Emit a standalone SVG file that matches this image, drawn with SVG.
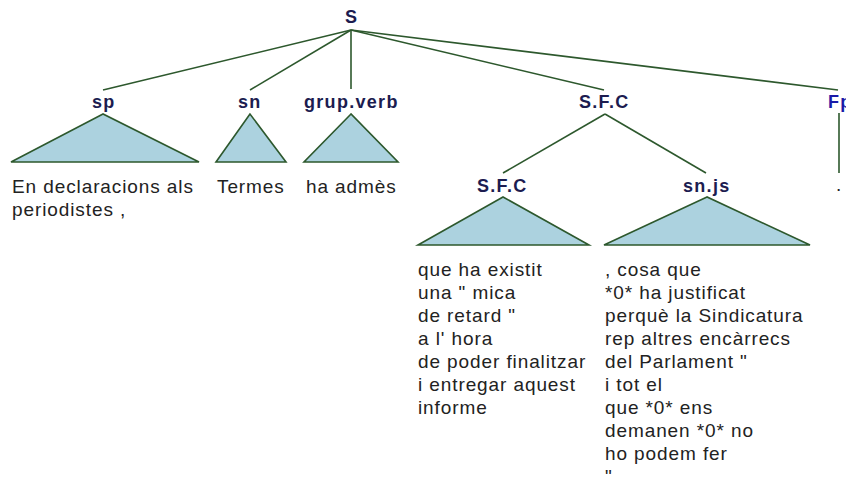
<svg xmlns="http://www.w3.org/2000/svg" width="846" height="477" viewBox="0 0 846 477">
<style>
.lbl{font-family:"Liberation Sans",Arial,sans-serif;font-weight:bold;font-size:18px;letter-spacing:1.3px;fill:#1c1c50}
.fp{fill:#1a1aa8}
.w{font-family:"Liberation Sans",Arial,sans-serif;font-size:19px;letter-spacing:0.9px;fill:#222}
.tri{fill:#acd2df;stroke:#2d582d;stroke-width:1.6;stroke-linejoin:miter}
.edge{stroke:#2d582d;stroke-width:1.6;fill:none}
</style>
<rect width="846" height="477" fill="#fff"/>
<g id="connectors">
<line class="edge" x1="351" y1="30" x2="103" y2="90"/>
<line class="edge" x1="351" y1="30" x2="250" y2="90"/>
<line class="edge" x1="351" y1="30" x2="351" y2="89"/>
<line class="edge" x1="351" y1="30" x2="604" y2="90"/>
<line class="edge" x1="351" y1="30" x2="838" y2="90"/>
<line class="edge" x1="605" y1="114" x2="503" y2="173"/>
<line class="edge" x1="605" y1="114" x2="706" y2="173"/>
<line class="edge" x1="839" y1="113" x2="839" y2="173"/>
</g>
<g id="node-S"><text class="lbl" x="345" y="23">S</text></g>
<g id="node-sp">
<text class="lbl" x="92" y="108">sp</text>
<polygon class="tri" points="103,114 11,162 199,162"/>
<text class="w" x="12" y="192.5">En declaracions als</text>
<text class="w" x="12" y="215.5">periodistes ,</text>
</g>
<g id="node-sn">
<text class="lbl" x="238" y="108">sn</text>
<polygon class="tri" points="250,114 216,162 286,162"/>
<text class="w" x="217" y="192.5">Termes</text>
</g>
<g id="node-grupverb">
<text class="lbl" x="304" y="108">grup.verb</text>
<polygon class="tri" points="351,114 304,162 398,162"/>
<text class="w" x="306" y="192.5">ha admès</text>
</g>
<g id="node-SFC"><text class="lbl" x="579" y="108">S.F.C</text></g>
<g id="node-Fp">
<text class="lbl fp" x="828" y="108">Fp</text>
<text class="w" x="836" y="191">.</text>
</g>
<g id="node-SFC2">
<text class="lbl" x="477" y="191.5">S.F.C</text>
<polygon class="tri" points="503,197 418,245 589,245"/>
<text class="w" x="418" y="275.5">que ha existit</text>
<text class="w" x="418" y="298.5">una " mica</text>
<text class="w" x="418" y="321.5">de retard "</text>
<text class="w" x="418" y="344.5">a l' hora</text>
<text class="w" x="418" y="367.5">de poder finalitzar</text>
<text class="w" x="418" y="390.5">i entregar aquest</text>
<text class="w" x="418" y="413.5">informe</text>
</g>
<g id="node-snjs">
<text class="lbl" x="683" y="191.5">sn.js</text>
<polygon class="tri" points="707,197 604,245 810,245"/>
<text class="w" x="605" y="275.5">, cosa que</text>
<text class="w" x="605" y="298.5">*0* ha justificat</text>
<text class="w" x="605" y="321.5">perquè la Sindicatura</text>
<text class="w" x="605" y="344.5">rep altres encàrrecs</text>
<text class="w" x="605" y="367.5">del Parlament "</text>
<text class="w" x="605" y="390.5">i tot el</text>
<text class="w" x="605" y="413.5">que *0* ens</text>
<text class="w" x="605" y="436.5">demanen *0* no</text>
<text class="w" x="605" y="459.5">ho podem fer</text>
<text class="w" x="605" y="482.5">"</text>
</g>
</svg>
